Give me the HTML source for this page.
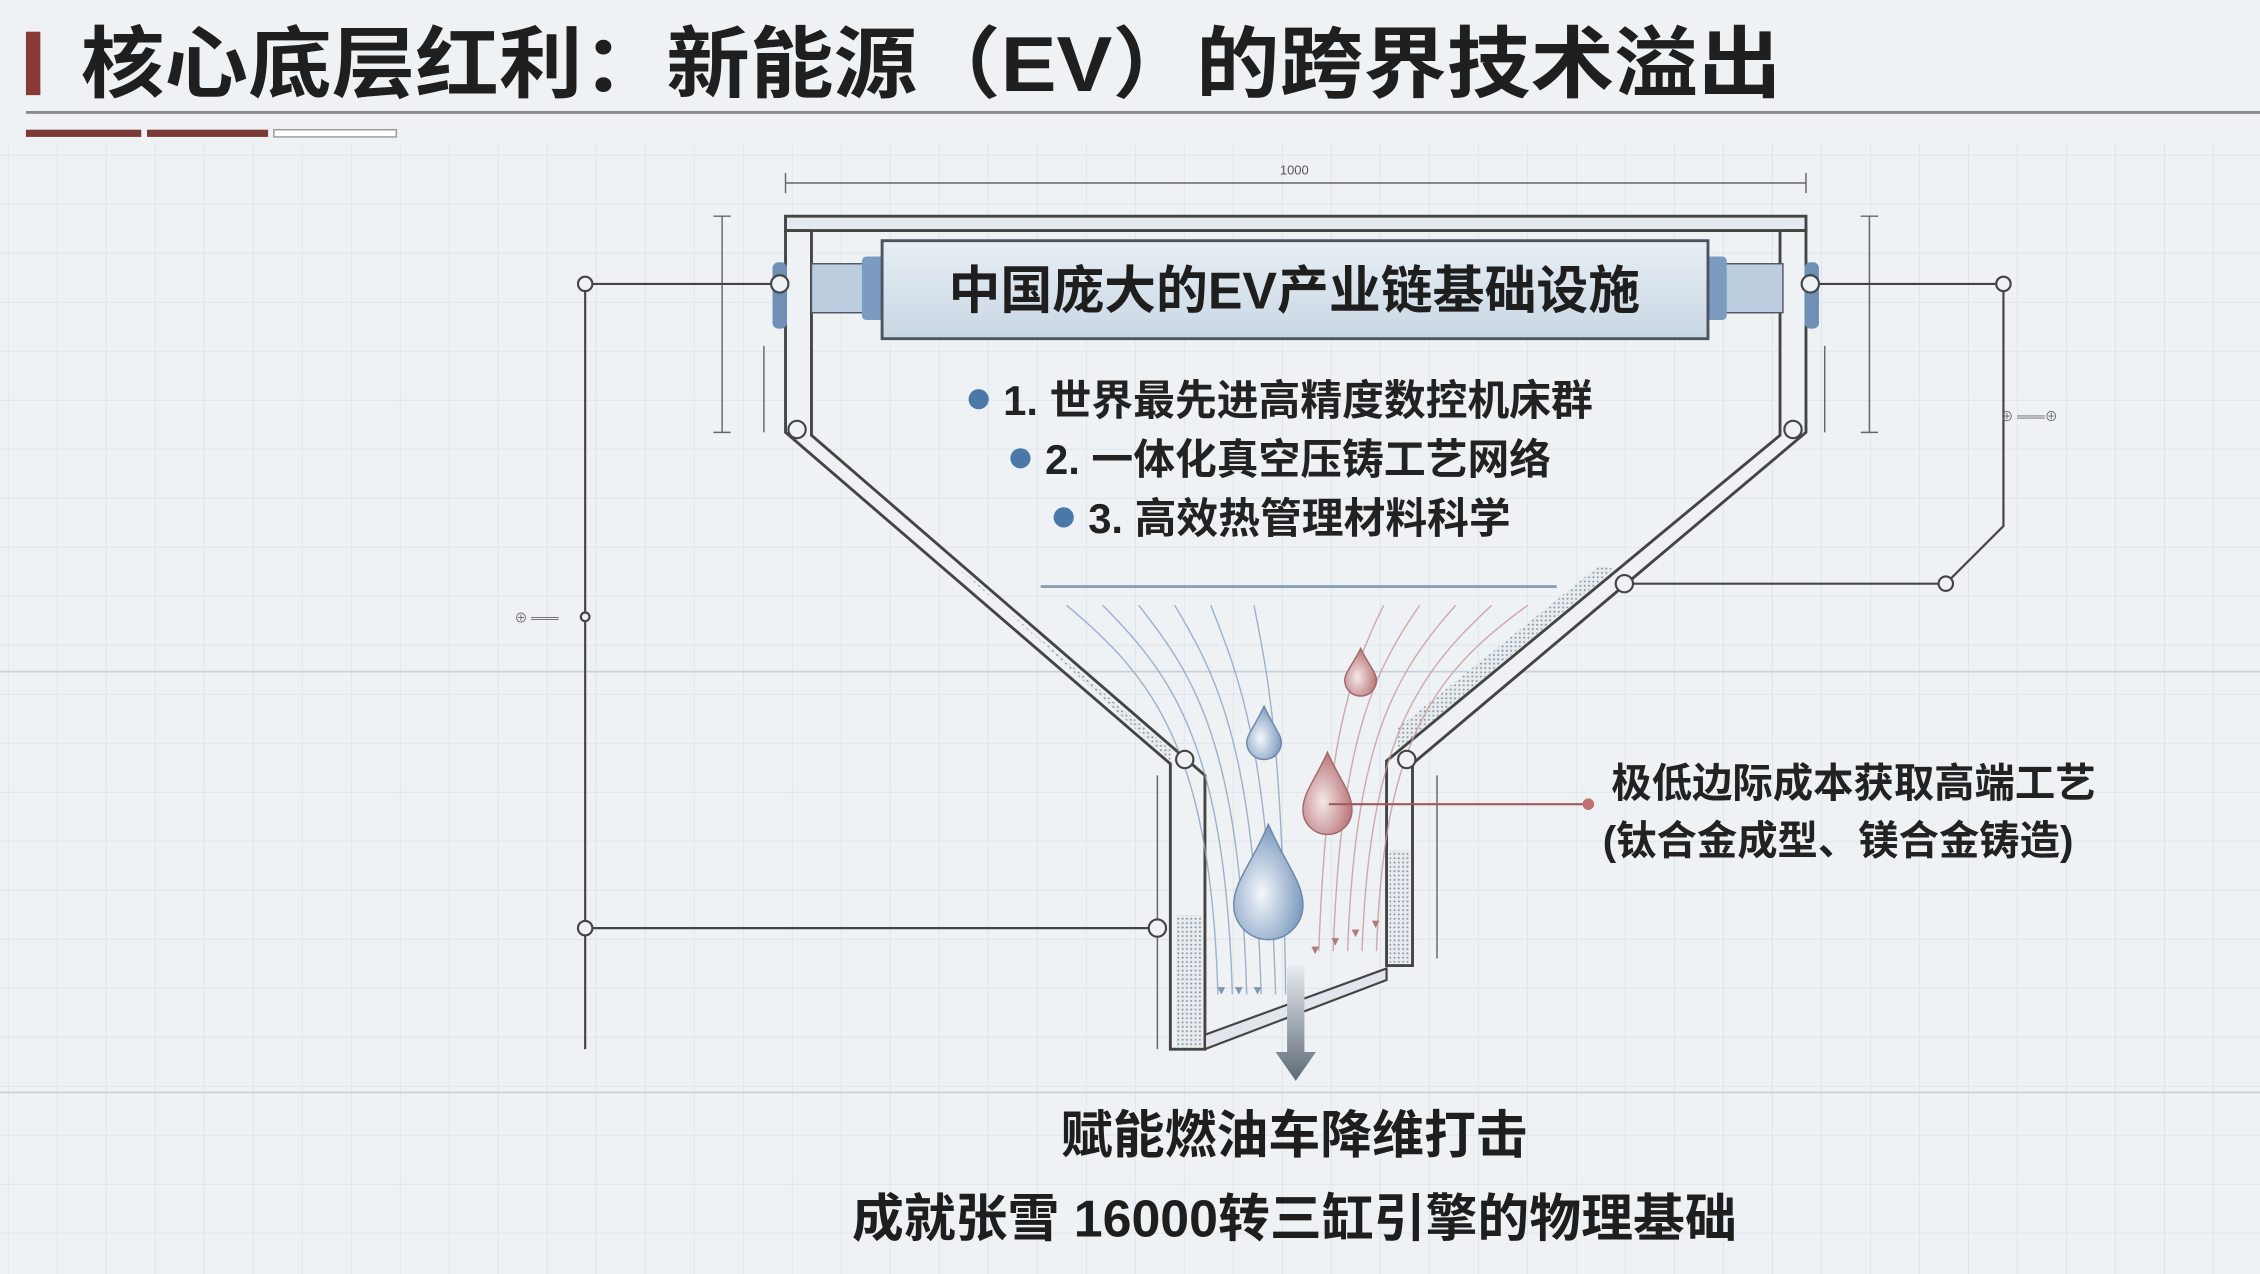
<!DOCTYPE html>
<html><head><meta charset="utf-8"><style>
html,body{margin:0;padding:0;background:#eef2f5;}
svg{display:block}
text{font-family:"Liberation Sans","Noto Sans CJK SC",sans-serif;}
</style></head><body>
<svg width="2260" height="1274" viewBox="0 0 1568 884" preserveAspectRatio="none" xmlns="http://www.w3.org/2000/svg">
<defs>
<pattern id="g" width="34" height="34" patternUnits="userSpaceOnUse" x="6" y="6">
<path d="M34 0V34M0 34H34" stroke="#d9e1e8" stroke-width="1" fill="none"/>
</pattern>
<pattern id="dots" width="3" height="3" patternUnits="userSpaceOnUse">
<rect width="3" height="3" fill="#e6ebef"/><circle cx="1.5" cy="1.5" r="0.7" fill="#8a949c"/>
</pattern>
<linearGradient id="box" x1="0" y1="0" x2="0" y2="1"><stop offset="0" stop-color="#e8eef4"/><stop offset="1" stop-color="#c9d7e4"/></linearGradient>
<radialGradient id="dropB" cx="0.4" cy="0.6" r="0.6"><stop offset="0" stop-color="#f4f7fb"/><stop offset="1" stop-color="#7d9bc0"/></radialGradient>
<radialGradient id="dropR" cx="0.4" cy="0.6" r="0.6"><stop offset="0" stop-color="#f5e8e8"/><stop offset="1" stop-color="#b9767a"/></radialGradient>
<linearGradient id="arr" x1="0" y1="0" x2="0" y2="1"><stop offset="0" stop-color="#e6ebef"/><stop offset="1" stop-color="#5f6a76"/></linearGradient>
</defs>
<rect width="1568" height="884" fill="#eef2f5"/>
<rect y="100" width="1568" height="784" fill="url(#g)"/>
<line x1="0" y1="466" x2="1568" y2="466" stroke="#c9d2da" stroke-width="1.2"/>
<line x1="0" y1="758" x2="1568" y2="758" stroke="#c9d2da" stroke-width="1.2"/>
<!-- Title -->
<rect x="18" y="22" width="10" height="44" fill="#8a3a36"/>
<text x="56" y="63" font-size="54" font-weight="bold" fill="#1f1f1f" textLength="1180" lengthAdjust="spacingAndGlyphs">核心底层红利：新能源（EV）的跨界技术溢出</text>
<line x1="18" y1="78" x2="1568" y2="78" stroke="#8b8b8b" stroke-width="2"/>
<rect x="18" y="90" width="80" height="5" fill="#7a3a36"/>
<rect x="102" y="90" width="84" height="5" fill="#7a3a36"/>
<rect x="190" y="90" width="85" height="5" fill="#fff" stroke="#999" stroke-width="1"/>
<!-- top dimension -->
<line x1="545" y1="127" x2="1253" y2="127" stroke="#666" stroke-width="1"/>
<line x1="545" y1="120" x2="545" y2="134" stroke="#666"/><line x1="1253" y1="120" x2="1253" y2="134" stroke="#666"/>
<text x="898" y="121" font-size="9" fill="#555" text-anchor="middle">1000</text>
<!-- side dims -->
<g stroke="#666" stroke-width="1">
<line x1="501" y1="150" x2="501" y2="300"/><line x1="495" y1="150" x2="507" y2="150"/><line x1="495" y1="300" x2="507" y2="300"/>
<line x1="1297" y1="150" x2="1297" y2="300"/><line x1="1291" y1="150" x2="1303" y2="150"/><line x1="1291" y1="300" x2="1303" y2="300"/>
<line x1="530" y1="240" x2="530" y2="300"/><line x1="1266" y1="240" x2="1266" y2="300"/>
<line x1="803" y1="538" x2="803" y2="728"/><line x1="997" y1="538" x2="997" y2="665"/>
</g>
<!-- funnel walls -->
<path d="M545 150H1253V160H545Z" fill="#e4eaef" stroke="#444" stroke-width="2"/>
<path d="M545 160V300L812 530V728H836V538L563 302V160Z" fill="#eef2f5" stroke="#444" stroke-width="2"/>
<path d="M1253 160V300L980 530V670H962V528L1235 302V160Z" fill="#eef2f5" stroke="#444" stroke-width="2"/>
<path d="M665 395L812 520V528L675 402Z" fill="url(#dots)"/>
<path d="M1120 395L970 520V505L1110 392Z" fill="url(#dots)"/>
<rect x="816" y="635" width="18" height="92" fill="url(#dots)"/>
<rect x="964" y="590" width="14" height="78" fill="url(#dots)"/>
<path d="M836 718L962 672V680L836 728Z" fill="#e0e6eb" stroke="#444" stroke-width="1.5"/>
<!-- cylinders -->
<rect x="563" y="183" width="45" height="34" fill="#bccde0" stroke="#556" stroke-width="1"/>
<rect x="598" y="178" width="16" height="44" rx="3" fill="#7b9cc0"/>
<rect x="1185" y="183" width="52" height="34" fill="#bccde0" stroke="#556" stroke-width="1"/>
<rect x="1182" y="178" width="16" height="44" rx="3" fill="#7b9cc0"/>
<rect x="536" y="182" width="10" height="46" rx="4" fill="#6f8fb6"/>
<rect x="1252" y="182" width="10" height="46" rx="4" fill="#6f8fb6"/>
<rect x="612" y="167" width="573" height="68" fill="url(#box)" stroke="#4a5560" stroke-width="2"/>
<text x="898" y="214" font-size="36" font-weight="bold" fill="#1e1e1e" text-anchor="middle">中国庞大的EV产业链基础设施</text>
<!-- bullets -->
<g font-size="29" font-weight="bold" fill="#222">
<circle cx="679" cy="277" r="7" fill="#4a78a8"/><text x="696" y="288">1. 世界最先进高精度数控机床群</text>
<circle cx="708" cy="318" r="7" fill="#4a78a8"/><text x="725" y="329">2. 一体化真空压铸工艺网络</text>
<circle cx="738" cy="359" r="7" fill="#4a78a8"/><text x="755" y="370">3. 高效热管理材料科学</text>
</g>
<line x1="722" y1="407" x2="1080" y2="407" stroke="#8aa0b4" stroke-width="2"/>
<!-- flow lines -->
<g fill="none" stroke-width="1" opacity="0.8">
<path d="M740 420C800 470 840 520 845 690" stroke="#8aa4c0"/>
<path d="M765 420C815 470 850 520 855 690" stroke="#8aa4c0"/>
<path d="M790 420C830 470 860 520 865 690" stroke="#8aa4c0"/>
<path d="M815 420C845 470 870 520 875 690" stroke="#8aa4c0"/>
<path d="M840 420C860 470 880 520 885 690" stroke="#8aa4c0"/>
<path d="M870 420C880 470 890 520 892 690" stroke="#8aa4c0"/>
<path d="M1060 420C990 470 960 520 955 660" stroke="#c59a9c"/>
<path d="M1035 420C980 470 950 520 945 660" stroke="#c59a9c"/>
<path d="M1010 420C965 470 940 520 935 660" stroke="#c59a9c"/>
<path d="M985 420C950 470 930 520 925 660" stroke="#c59a9c"/>
<path d="M960 420C935 470 920 520 915 660" stroke="#c59a9c"/>
</g>
<g font-size="9" fill="#7f96b0"><text x="843" y="690">▼</text><text x="855" y="690">▼</text><text x="868" y="690">▼</text></g>
<g font-size="9" fill="#b07a7c"><text x="908" y="662">▼</text><text x="922" y="656">▼</text><text x="936" y="650">▼</text><text x="950" y="644">▼</text></g>
<!-- drops -->
<path d="M880 572C868 600 856 612 856 628A24 24 0 0 0 904 628C904 612 892 600 880 572Z" fill="url(#dropB)" stroke="#6f88a6"/>
<path d="M877 490C870 505 865 510 865 515A12 12 0 0 0 889 515C889 510 884 505 877 490Z" fill="url(#dropB)" stroke="#6f88a6"/>
<path d="M921 522C912 542 904 550 904 562A17 17 0 0 0 938 562C938 550 930 542 921 522Z" fill="url(#dropR)" stroke="#a0686c"/>
<path d="M944 450C938 462 933 467 933 472A11 11 0 0 0 955 472C955 467 950 462 944 450Z" fill="url(#dropR)" stroke="#a0686c"/>
<!-- big arrow -->
<path d="M893 670H905V730H913L899 750L885 730H893Z" fill="url(#arr)"/>
<!-- connectors -->
<g stroke="#444" stroke-width="1.5" fill="#eef2f5">
<line x1="406" y1="197" x2="541" y2="197"/><line x1="406" y1="197" x2="406" y2="728"/>
<line x1="406" y1="644" x2="803" y2="644"/>
<line x1="1256" y1="197" x2="1390" y2="197"/><polyline points="1390,197 1390,365 1350,405 1127,405" fill="none"/>
<circle cx="406" cy="197" r="5"/><circle cx="541" cy="197" r="6"/>
<circle cx="406" cy="644" r="5"/><circle cx="803" cy="644" r="6"/>
<circle cx="1256" cy="197" r="6"/><circle cx="1390" cy="197" r="5"/>
<circle cx="1350" cy="405" r="5"/><circle cx="1127" cy="405" r="6"/>
<circle cx="553" cy="298" r="6"/><circle cx="1244" cy="298" r="6"/>
<circle cx="822" cy="527" r="6"/><circle cx="976" cy="527" r="6"/>
<circle cx="406" cy="428" r="3"/>
</g>
<text x="357" y="432" font-size="9" fill="#666">⊕ ═══</text>
<text x="1388" y="292" font-size="9" fill="#666">⊕ ═══⊕</text>
<!-- red callout -->
<line x1="922" y1="558" x2="1100" y2="558" stroke="#a05a5a" stroke-width="1.5"/>
<circle cx="1102" cy="558" r="4" fill="#c0706e"/>
<g font-size="28" font-weight="bold" fill="#222">
<text x="1118" y="553">极低边际成本获取高端工艺</text>
<text x="1112" y="593">(钛合金成型、镁合金铸造)</text>
</g>
<g font-size="36" font-weight="bold" fill="#1e1e1e" text-anchor="middle">
<text x="898" y="800">赋能燃油车降维打击</text>
<text x="898" y="858">成就张雪 16000转三缸引擎的物理基础</text>
</g>
</svg>
</body></html>
